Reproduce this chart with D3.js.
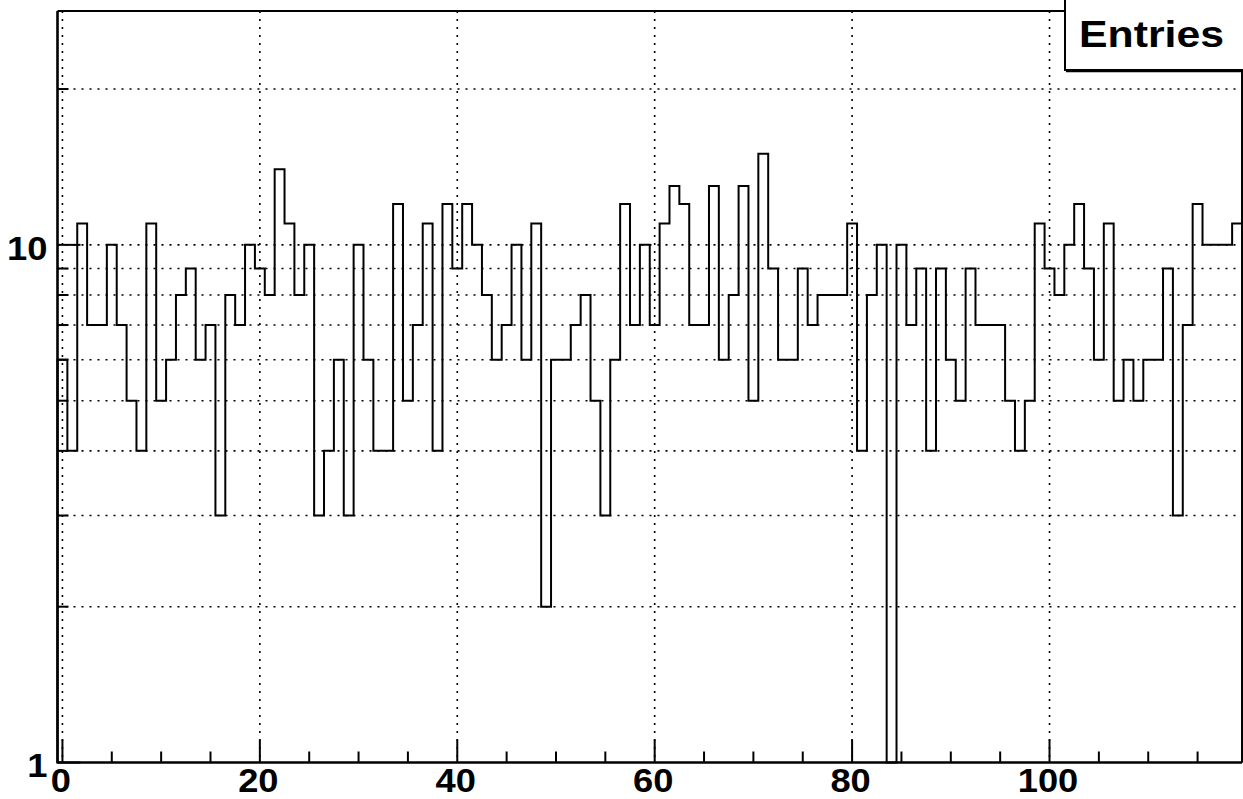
<!DOCTYPE html>
<html>
<head>
<meta charset="utf-8">
<script src="https://cdn.jsdelivr.net/npm/d3@7"></script>
<style>
  html, body { margin: 0; padding: 0; background: #fff; }
  svg { display: block; }
  text { font-family: "Liberation Sans", Arial, Helvetica, sans-serif; font-weight: bold; fill: #000; }
</style>
</head>
<body>
<svg id="chart" width="1243" height="799"></svg>
<script>
// ---- data ----
const binCenters = d3.range(0, 120);            // bins of width 1 centred on 0..119
const counts = [
  6, 4, 11, 7, 7, 10, 7, 5, 4, 11, 5, 6, 8, 9, 6, 7, 3, 8, 7, 10,
  9, 8, 14, 11, 8, 10, 3, 4, 6, 3, 10, 6, 4, 4, 12, 5, 7, 11, 4, 12,
  9, 12, 10, 8, 6, 7, 10, 6, 11, 2, 6, 6, 7, 8, 5, 3, 6, 12, 7, 10,
  7, 11, 13, 12, 7, 7, 13, 6, 8, 13, 5, 15, 9, 6, 6, 9, 7, 8, 8, 8,
  11, 4, 8, 10, 0, 10, 7, 9, 4, 9, 6, 5, 9, 7, 7, 7, 5, 4, 5, 11,
  9, 8, 10, 12, 9, 6, 11, 5, 6, 5, 6, 6, 9, 3, 7, 12, 10, 10, 10, 11
];
const xDomain = [-0.5, 119.5];
const yDomain = [1, 28.3];
const xMajorTicks = [0, 20, 40, 60, 80, 100];
const xMinorTicks = d3.range(0, 120, 5).filter(v => v % 20 !== 0);
const yDecadeTicks = [1, 10];
const yMinorTicks = [2, 3, 4, 5, 6, 7, 8, 9, 20];
const yGridValues = [2, 3, 4, 5, 6, 7, 8, 9, 10, 20];
const statsLabel = "Entries";

// ---- layout ----
const L = 57.5, R = 1242, T = 11, B = 762.5;
const svg = d3.select("#chart");
const x = d3.scaleLinear().domain(xDomain).range([L, R]);
const y = d3.scaleLog().domain(yDomain).range([B, T]);

// grid
const grid = svg.append("g").attr("stroke", "#000").attr("stroke-width", 1.6)
  .attr("stroke-dasharray", "2,6").attr("fill", "none");
grid.selectAll("line.gx").data(xMajorTicks).join("line")
  .attr("x1", d => x(d)).attr("x2", d => x(d)).attr("y1", T).attr("y2", B);
grid.selectAll("line.gy").data(yGridValues).join("line")
  .attr("x1", L).attr("x2", R).attr("y1", d => y(d)).attr("y2", d => y(d));

// histogram outline
const pts = [[xDomain[0], 0]];
counts.forEach((c, i) => {
  pts.push([binCenters[i] - 0.5, c]);
  pts.push([binCenters[i] + 0.5, c]);
});
pts.push([xDomain[1], 0]);
const line = d3.line()
  .x(d => x(d[0]))
  .y(d => d[1] > 0 ? y(d[1]) : y(yDomain[0]));
svg.append("path").attr("d", line(pts)).attr("fill", "none")
  .attr("stroke", "#000").attr("stroke-width", 2).attr("stroke-linejoin", "miter");

// frame
svg.append("line").attr("x1", L).attr("x2", R).attr("y1", T).attr("y2", T)
  .attr("stroke", "#000").attr("stroke-width", 2);
svg.append("line").attr("x1", R).attr("x2", R).attr("y1", T).attr("y2", B)
  .attr("stroke", "#000").attr("stroke-width", 2);

// axes lines
svg.append("line").attr("x1", L).attr("x2", R).attr("y1", B).attr("y2", B)
  .attr("stroke", "#000").attr("stroke-width", 2.6);
svg.append("line").attr("x1", L).attr("x2", L).attr("y1", T).attr("y2", B + 1)
  .attr("stroke", "#000").attr("stroke-width", 2.6);

// x ticks
const tk = svg.append("g").attr("stroke", "#000").attr("stroke-width", 2);
tk.selectAll("line.xM").data(xMajorTicks).join("line")
  .attr("x1", d => x(d)).attr("x2", d => x(d)).attr("y1", B).attr("y2", B - 23);
tk.selectAll("line.xm").data(xMinorTicks).join("line")
  .attr("x1", d => x(d)).attr("x2", d => x(d)).attr("y1", B).attr("y2", B - 11);
// y ticks
tk.selectAll("line.yM").data(yDecadeTicks).join("line")
  .attr("x1", L).attr("x2", L + 23).attr("y1", d => y(d)).attr("y2", d => y(d));
tk.selectAll("line.ym").data(yMinorTicks).join("line")
  .attr("x1", L).attr("x2", L + 11).attr("y1", d => y(d)).attr("y2", d => y(d));

// x labels
svg.selectAll("text.xl").data(xMajorTicks).join("text")
  .attr("class", "xl")
  .attr("transform", d => `translate(${x(d) - 1.5},792) scale(1.1,1)`)
  .attr("text-anchor", "middle").attr("font-size", 33)
  .text(d => d);

// y labels
svg.selectAll("text.yl").data(yDecadeTicks).join("text")
  .attr("class", "yl")
  .attr("transform", d => `translate(47.5,${y(d) + (d === 1 ? 14.2 : 15)}) scale(1.12,1)`)
  .attr("text-anchor", "end").attr("font-size", 32.5)
  .text(d => d3.format("d")(d));

// stats box
svg.append("rect").attr("x", 1065).attr("y", -5).attr("width", 200).attr("height", 75)
  .attr("fill", "#fff").attr("stroke", "#000").attr("stroke-width", 2);
svg.append("line").attr("x1", 1066).attr("x2", 1243).attr("y1", 71.5).attr("y2", 71.5)
  .attr("stroke", "#000").attr("stroke-width", 1.5);
svg.append("text").attr("x", 1079).attr("y", 47.3).attr("font-size", 37)
  .attr("textLength", 145).attr("lengthAdjust", "spacingAndGlyphs")
  .text(statsLabel);
</script>
</body>
</html>
